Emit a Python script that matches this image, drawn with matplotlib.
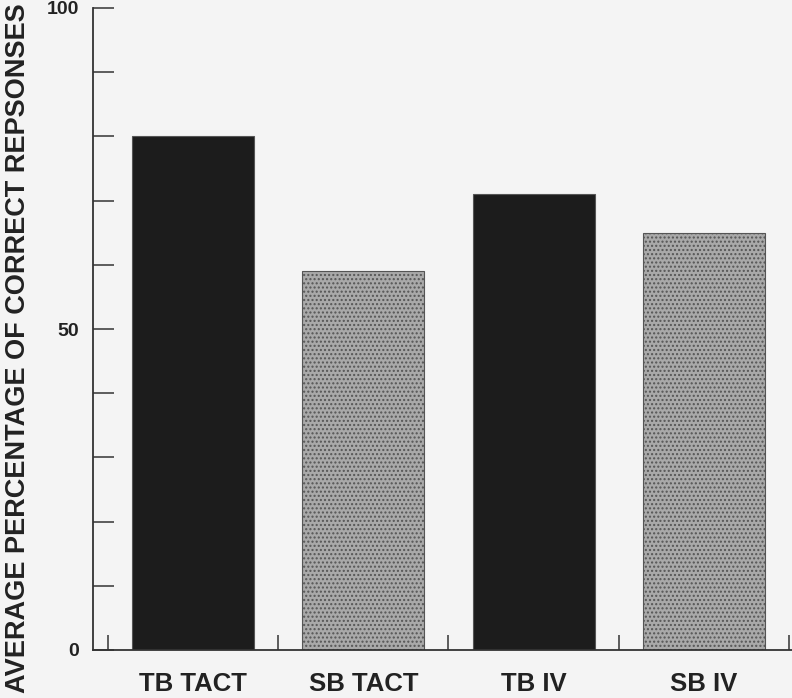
import matplotlib
matplotlib.use("Agg")
import matplotlib.pyplot as plt
from matplotlib.ticker import MultipleLocator, FixedLocator, NullFormatter

# データ
categories = ["TB TACT", "SB TACT", "TB IV", "SB IV"]
values = [80, 59, 71, 65]
bar_colors = ["#1c1c1c", "#a9a9a9", "#1c1c1c", "#a9a9a9"]
y_labels = [0, 50, 100]

plt.rcParams["font.family"] = ["Liberation Sans", "DejaVu Sans"]
plt.rcParams["font.weight"] = "bold"
plt.rcParams["hatch.color"] = "#8a8a8a"

fig = plt.figure(figsize=(7.92, 6.98), dpi=100)
fig.patch.set_facecolor("#f4f4f4")
ax = fig.add_axes([93 / 792, 48 / 698, (792 - 93) / 792, 642 / 698])
ax.set_facecolor("#f4f4f4")

x = list(range(len(categories)))
for xi, v, c in zip(x, values, bar_colors):
    hatch = "...." if c != "#1c1c1c" else None
    ax.bar(xi, v, width=0.716, color=c, edgecolor="#555555", linewidth=0.8,
           hatch=hatch)

ax.set_xlim(-0.588, 3.518)
ax.set_ylim(0, 100)

# 軸の体裁
for s in ["top", "right"]:
    ax.spines[s].set_visible(False)
for s in ["left", "bottom"]:
    ax.spines[s].set_color("#333333")
    ax.spines[s].set_linewidth(1.3)

ax.yaxis.set_major_locator(FixedLocator(y_labels))
ax.yaxis.set_minor_locator(MultipleLocator(10))
ax.yaxis.set_minor_formatter(NullFormatter())
ax.tick_params(axis="y", which="both", direction="in", length=15, width=1.1,
               color="#333333", pad=10, labelsize=14)

ax.set_xticks(x)
ax.set_xticklabels(categories)
ax.xaxis.set_minor_locator(FixedLocator([i - 0.5 for i in range(len(categories) + 1)]))
ax.tick_params(axis="x", which="major", length=0, pad=16, labelsize=18.5)
ax.tick_params(axis="x", which="minor", direction="in", length=11, width=1.1,
               color="#333333")
for lab in ax.get_xticklabels() + ax.get_yticklabels():
    lab.set_fontweight("bold")
    lab.set_color("#222222")

fig.text(18 / 792, 1 - 348 / 698, "AVERAGE PERCENTAGE OF CORRECT REPSONSES",
         rotation=90, ha="center", va="center", fontsize=19.5,
         fontweight="bold", color="#222222")

fig.savefig("out.png", dpi=100, facecolor=fig.get_facecolor())
